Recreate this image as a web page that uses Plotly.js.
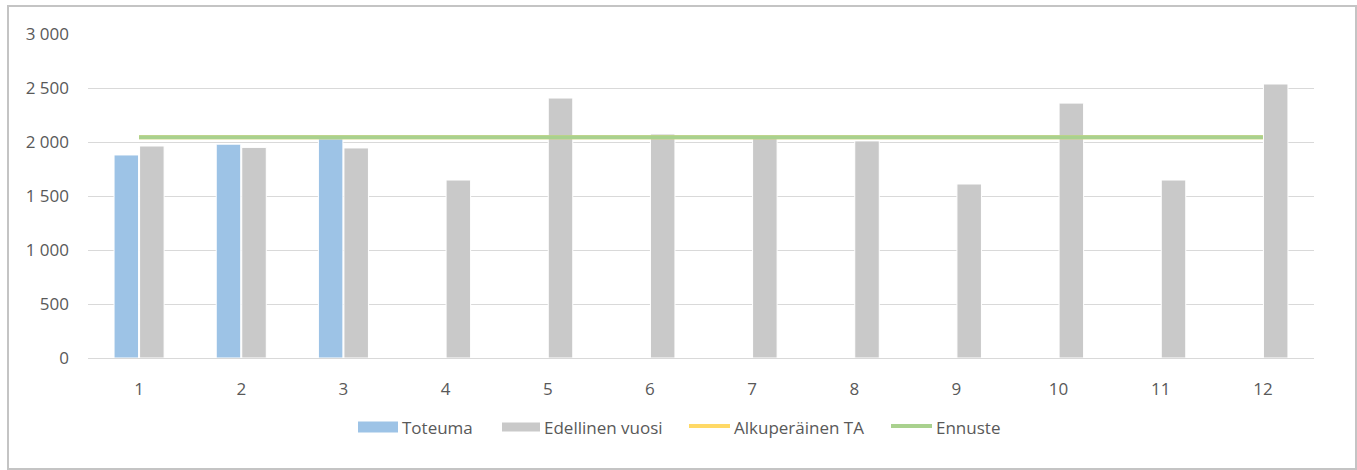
<!DOCTYPE html>
<html>
<head>
<meta charset="utf-8">
<script src="https://cdn.plot.ly/plotly-3.0.1.min.js"></script>
<style>
html,body{margin:0;padding:0;background:#fff;}
#frame{position:absolute;left:7px;top:5px;width:1346px;height:461px;border:2px solid #c4c4c4;}
#chart{position:absolute;left:0;top:0;width:1357px;height:470px;}
</style>
</head>
<body>
<div id="frame"></div>
<div id="chart"></div>
<script>
const months = ['1','2','3','4','5','6','7','8','9','10','11','12'];
const toteuma = [1880, 1980, 2030, null, null, null, null, null, null, null, null, null];
const edellinenVuosi = [1963, 1950, 1945, 1648, 2407, 2074, 2040, 2010, 1611, 2360, 1648, 2537];
const alkuperainenTA = [2044, 2044, 2044, 2044, 2044, 2044, 2044, 2044, 2044, 2044, 2044, 2044];
const ennuste = [2044, 2044, 2044, 2044, 2044, 2044, 2044, 2044, 2044, 2044, 2044, 2044];
const seriesNames = ['Toteuma', 'Edellinen vuosi', 'Alkuperäinen TA', 'Ennuste'];
const seriesColors = ['#9dc3e6', '#c9c9c9', '#ffd966', '#a9d18e'];

const font = "'Open Sans', 'Noto Sans', sans-serif";
const M = {l:88, r:43, t:34, b:112};
const W = 1357, H = 470;
const pw = W - M.l - M.r, ph = H - M.t - M.b;
const px2x = p => (p - M.l) / pw;
const px2y = p => (H - M.b - p) / ph;

const traces = [
  {type:'bar', name:seriesNames[0], x:months, y:toteuma,
   marker:{color:seriesColors[0], line:{color:'#ffffff', width:1}}},
  {type:'bar', name:seriesNames[1], x:months, y:edellinenVuosi,
   marker:{color:seriesColors[1], line:{color:'#ffffff', width:1}}},
  {type:'scatter', mode:'lines', name:seriesNames[2], x:months, y:alkuperainenTA,
   line:{color:seriesColors[2], width:4}},
  {type:'scatter', mode:'lines', name:seriesNames[3], x:months, y:ennuste,
   line:{color:seriesColors[3], width:4}}
];

// custom legend (wide swatches like the original)
const legendY = 427;
const items = [
  {kind:'rect', x0:358, x1:398, h:11, tx:400},
  {kind:'rect', x0:502, x1:540, h:9, tx:542},
  {kind:'line', x0:689, x1:730, tx:732},
  {kind:'line', x0:891, x1:932, tx:934}
];
const shapes = [], annotations = [];
items.forEach((it, i) => {
  if (it.kind === 'rect') {
    shapes.push({type:'rect', xref:'paper', yref:'paper',
      x0:px2x(it.x0), x1:px2x(it.x1), y0:px2y(legendY + it.h/2), y1:px2y(legendY - it.h/2),
      fillcolor:seriesColors[i], line:{width:0}});
  } else {
    shapes.push({type:'line', xref:'paper', yref:'paper',
      x0:px2x(it.x0), x1:px2x(it.x1), y0:px2y(legendY - 1), y1:px2y(legendY - 1),
      line:{color:seriesColors[i], width:4}});
  }
  annotations.push({xref:'paper', yref:'paper', x:px2x(it.tx), y:px2y(legendY),
    xanchor:'left', yanchor:'middle', showarrow:false, text:seriesNames[i],
    font:{size:17, color:'#595959', family:font}});
});

const layout = {
  width:W, height:H,
  margin:M,
  paper_bgcolor:'rgba(0,0,0,0)', plot_bgcolor:'rgba(0,0,0,0)',
  separators:', ',
  font:{family:font, size:17, color:'#595959'},
  barmode:'group', bargap:0.5, bargroupgap:0.04,
  showlegend:false,
  xaxis:{type:'category', showgrid:false, showline:true, linecolor:'#d9d9d9', linewidth:1,
         ticks:'', ticklabelstandoff:16, tickfont:{size:17, color:'#595959'}, zeroline:false},
  yaxis:{range:[0,3000], dtick:500, tickformat:',d', showgrid:true, gridcolor:'#d9d9d9', gridwidth:1,
         zeroline:false, showline:false, ticks:'', ticklabelstandoff:18,
         tickfont:{size:17, color:'#595959'}},
  shapes:shapes,
  annotations:annotations,
  hovermode:false
};
Plotly.newPlot('chart', traces, layout, {displayModeBar:false, staticPlot:true});
</script>
</body>
</html>
